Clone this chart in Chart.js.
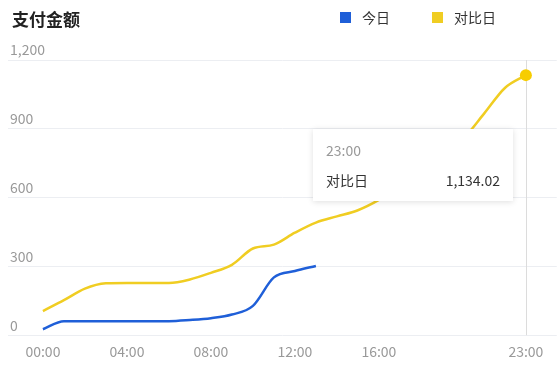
<!DOCTYPE html>
<html>
<head>
<meta charset="utf-8">
<script src="https://cdn.jsdelivr.net/npm/chart.js@4.4.1/dist/chart.umd.min.js"></script>
<style>
  html, body { margin: 0; padding: 0; background: #fff; }
  body { font-family: "Noto Sans CJK SC", "Noto Sans", sans-serif; }
  #wrap { position: relative; width: 558px; height: 371px; overflow: hidden; }
  #titulo { position: absolute; left: 12px; top: 6px; font-size: 17px; font-weight: bold; color: #222; }
  #leyenda { position: absolute; left: 340px; top: 7px; display: flex; font-size: 14px; color: #333; }
  #leyenda .item { display: flex; align-items: center; margin-right: 42px; }
  #leyenda .cuadro { width: 11px; height: 11px; margin-right: 11px; }
  #tooltip { position: absolute; width: 200px; height: 72px; background: #fff; box-shadow: 0 1px 6px rgba(0,0,0,0.13); box-sizing: border-box; padding: 10px 13px; font-size: 14px; display: none; }
  #tooltip .tt-titulo { color: #999; height: 22px; line-height: 22px; }
  #tooltip .tt-fila { display: flex; justify-content: space-between; color: #333; margin-top: 8px; line-height: 22px; }
</style>
</head>
<body>
<div id="wrap">
  <canvas id="grafico" width="558" height="371"></canvas>
  <div id="titulo">支付金额</div>
  <div id="leyenda"></div>
  <div id="tooltip"></div>
</div>
<script>
// Datos
const horas = ['00:00', '01:00', '02:00', '03:00', '04:00', '05:00', '06:00', '07:00',
    '08:00', '09:00', '10:00', '11:00', '12:00', '13:00', '14:00', '15:00',
    '16:00', '17:00', '18:00', '19:00', '20:00', '21:00', '22:00', '23:00'];
const hoy = [26, 61, 61, 61, 61, 61, 61, 66, 74, 90, 128, 252, 280, 302,
    null, null, null, null, null, null, null, null, null, null];
const comparacion = [105, 153, 203, 226, 228, 228, 228, 243, 272, 307, 378, 395,
    447, 491, 518, 545, 590, 650, 715, 785, 855, 965, 1078, 1134.02];
const marcasX = [0, 4, 8, 12, 16, 23];
const marcasY = [0, 300, 600, 900, 1200];
const nombres = ['今日', '对比日'];
const colores = ['#1f5fd8', '#f0cd22'];

function aPuntos(valores) {
    return valores.map((v, i) => ({ x: i, y: v }));
}

// Linea vertical en el punto activo
const lineaVertical = {
    id: 'lineaVertical',
    beforeDatasetsDraw(chart) {
        const activos = chart.getActiveElements();
        if (!activos.length) return;
        const x = activos[0].element.x;
        const { top, bottom } = chart.chartArea;
        const ctx = chart.ctx;
        ctx.save();
        ctx.strokeStyle = '#dcdcdc';
        ctx.lineWidth = 1;
        ctx.beginPath();
        ctx.moveTo(Math.round(x) + 0.5, top);
        ctx.lineTo(Math.round(x) + 0.5, bottom);
        ctx.stroke();
        ctx.restore();
    }
};

function tooltipExterno(context) {
    const caja = document.getElementById('tooltip');
    const tt = context.tooltip;
    if (tt.opacity === 0 || !tt.dataPoints || !tt.dataPoints.length) {
        caja.style.display = 'none';
        return;
    }
    const dp = tt.dataPoints[0];
    const valor = dp.parsed.y.toLocaleString('en-US', { minimumFractionDigits: 2, maximumFractionDigits: 2 });
    caja.innerHTML = '<div class="tt-titulo">' + horas[dp.dataIndex] + '</div>' +
        '<div class="tt-fila"><span>' + dp.dataset.label + '</span><span>' + valor + '</span></div>';
    caja.style.display = 'block';
    caja.style.left = (tt.caretX - 214) + 'px';
    caja.style.top = (tt.caretY + 54) + 'px';
}

const ctx = document.getElementById('grafico').getContext('2d');
const grafico = new Chart(ctx, {
    type: 'line',
    data: {
        datasets: [{
            label: nombres[0],
            data: aPuntos(hoy),
            borderColor: colores[0],
            backgroundColor: colores[0],
            borderWidth: 2.5,
            pointRadius: 0,
            pointHoverRadius: 0,
            cubicInterpolationMode: 'monotone',
            spanGaps: false
        }, {
            label: nombres[1],
            data: aPuntos(comparacion),
            borderColor: colores[1],
            backgroundColor: colores[1],
            borderWidth: 2.5,
            pointRadius: 0,
            pointHoverRadius: 6,
            pointHoverBorderWidth: 0,
            cubicInterpolationMode: 'monotone'
        }]
    },
    options: {
        responsive: false,
        animation: false,
        locale: 'en-US',
        events: [],
        layout: { padding: { top: 60, left: 4, right: 0, bottom: 11 } },
        plugins: {
            legend: { display: false },
            title: { display: false },
            tooltip: { enabled: false, external: tooltipExterno }
        },
        scales: {
            x: {
                type: 'linear',
                min: -1.663,
                max: 24.47,
                grid: { display: false },
                border: { display: false },
                afterBuildTicks: scale => { scale.ticks = marcasX.map(v => ({ value: v })); },
                ticks: {
                    autoSkip: false,
                    maxRotation: 0,
                    padding: 0,
                    color: '#999',
                    font: { size: 14, family: '"Noto Sans CJK SC", "Noto Sans", sans-serif' },
                    callback: v => horas[v]
                }
            },
            y: {
                min: 0,
                max: 1200,
                afterBuildTicks: scale => { scale.ticks = marcasY.map(v => ({ value: v })); },
                grid: { color: '#eceef2', drawTicks: false },
                border: { display: false },
                ticks: {
                    mirror: true,
                    padding: 2,
                    labelOffset: -10,
                    color: '#999',
                    font: { size: 14, family: '"Noto Sans CJK SC", "Noto Sans", sans-serif' },
                    callback: v => v.toLocaleString('en-US')
                }
            }
        }
    },
    plugins: [lineaVertical]
});

// Leyenda en HTML
const leyenda = document.getElementById('leyenda');
grafico.data.datasets.forEach(ds => {
    const item = document.createElement('div');
    item.className = 'item';
    item.innerHTML = '<span class="cuadro" style="background:' + ds.borderColor + '"></span><span>' + ds.label + '</span>';
    leyenda.appendChild(item);
});

// Punto activo: 对比日 a las 23:00
const activo = [{ datasetIndex: 1, index: 23 }];
const el = grafico.getDatasetMeta(1).data[23];
grafico.setActiveElements(activo);
grafico.tooltip.setActiveElements(activo, { x: el.x, y: el.y });
grafico.update();
</script>
</body>
</html>
